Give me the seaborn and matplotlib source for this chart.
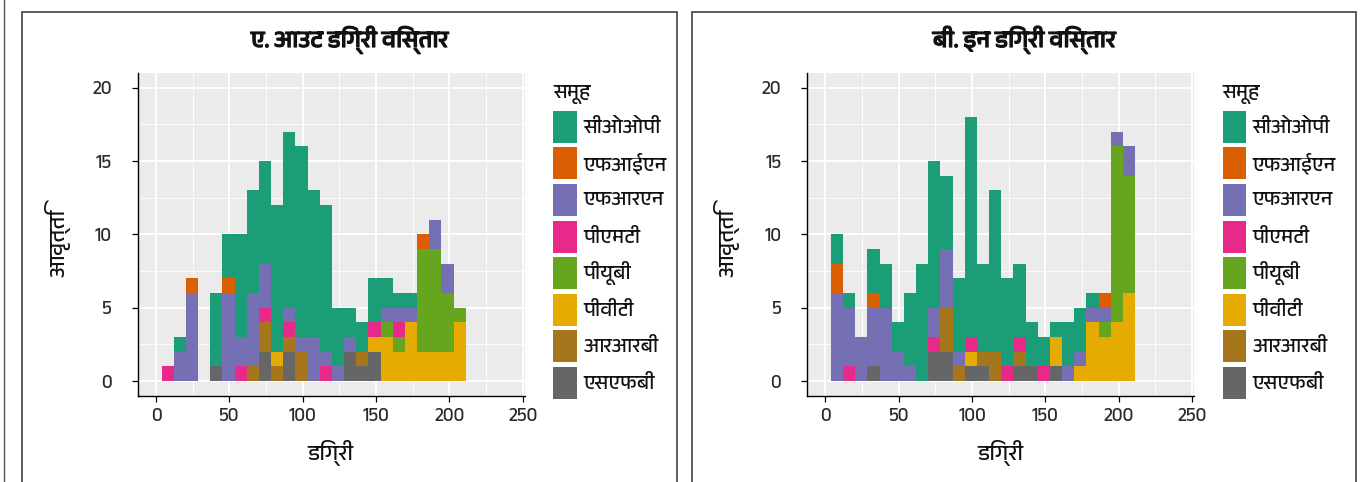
import logging
logging.disable(logging.WARNING)
import numpy as np
import pandas as pd
import matplotlib
matplotlib.use("Agg")
import matplotlib.pyplot as plt
import matplotlib.patheffects as pe
import seaborn as sns
from matplotlib import font_manager as fm
from matplotlib.patches import Rectangle
from matplotlib.lines import Line2D
from matplotlib.ticker import MultipleLocator

# ---------------- data ----------------
groups = ["सीओओपी", "एफआईएन", "एफआरएन", "पीएमटी", "पीयूबी", "पीवीटी", "आरआरबी", "एसएफबी"]
colors = ["#1B9E77", "#D95F02", "#7570B3", "#E7298A", "#66A61E", "#E6AB02", "#A6761D", "#666666"]

bin_start = 3.85
bin_width = 8.29
n_bins = 25

# A. out degree: counts per bin for each group
out_cop = [0, 1, 0, 0, 5, 3, 7, 7, 7, 10, 12, 13, 10, 10, 4, 2, 2, 3, 2, 1, 1, 0, 0, 0, 0]
out_fin = [0, 0, 1, 0, 0, 1, 0, 0, 0, 0, 0, 0, 0, 0, 0, 0, 0, 0, 0, 0, 0, 1, 0, 0, 0]
out_frn = [0, 2, 6, 0, 0, 6, 2, 5, 3, 0, 1, 1, 3, 1, 1, 1, 0, 0, 1, 1, 1, 0, 2, 2, 0]
out_pmt = [1, 0, 0, 0, 0, 0, 1, 0, 1, 0, 1, 0, 0, 1, 0, 0, 0, 1, 0, 1, 0, 0, 0, 0, 0]
out_pub = [0, 0, 0, 0, 0, 0, 0, 0, 0, 0, 0, 0, 0, 0, 0, 0, 0, 0, 1, 1, 0, 7, 7, 4, 1]
out_pvt = [0, 0, 0, 0, 0, 0, 0, 0, 0, 1, 0, 0, 0, 0, 0, 0, 0, 1, 3, 2, 4, 2, 2, 2, 4]
out_rrb = [0, 0, 0, 0, 0, 0, 0, 1, 2, 1, 1, 2, 0, 0, 0, 0, 1, 0, 0, 0, 0, 0, 0, 0, 0]
out_sfb = [0, 0, 0, 0, 1, 0, 0, 0, 2, 0, 2, 0, 0, 0, 0, 2, 1, 2, 0, 0, 0, 0, 0, 0, 0]

# B. in degree: counts per bin for each group
in_cop = [2, 1, 0, 3, 3, 2, 5, 8, 10, 5, 5, 15, 6, 11, 6, 5, 3, 2, 1, 3, 3, 1, 0, 0, 0]
in_fin = [2, 0, 0, 1, 0, 0, 0, 0, 0, 0, 0, 0, 0, 0, 0, 0, 0, 0, 0, 0, 0, 0, 1, 0, 0]
in_frn = [6, 4, 3, 4, 5, 2, 1, 0, 2, 4, 1, 0, 0, 0, 0, 0, 0, 0, 0, 1, 1, 1, 1, 1, 2]
in_pmt = [0, 1, 0, 0, 0, 0, 0, 0, 1, 0, 0, 1, 0, 0, 1, 1, 0, 1, 0, 0, 0, 0, 0, 0, 0]
in_pub = [0, 0, 0, 0, 0, 0, 0, 0, 0, 0, 0, 0, 0, 0, 0, 0, 0, 0, 0, 0, 0, 0, 1, 12, 8]
in_pvt = [0, 0, 0, 0, 0, 0, 0, 0, 0, 0, 0, 1, 0, 0, 0, 0, 0, 0, 2, 0, 1, 4, 3, 4, 6]
in_rrb = [0, 0, 0, 0, 0, 0, 0, 0, 0, 3, 1, 0, 1, 2, 0, 1, 0, 0, 0, 0, 0, 0, 0, 0, 0]
in_sfb = [0, 0, 0, 1, 0, 0, 0, 0, 2, 2, 0, 1, 1, 0, 0, 1, 1, 0, 1, 0, 0, 0, 0, 0, 0]

titles = ["ए. आउट डिग्री विस्तार", "बी. इन डिग्री विस्तार"]
x_label = "डिग्री"
y_label = "आवृत्ति"
legend_title = "समूह"
x_ticks = [0, 50, 100, 150, 200, 250]
y_ticks = [0, 5, 10, 15, 20]

# ---------------- fonts ----------------
def find_devanagari():
    try:
        from fontTools.ttLib import TTFont
    except Exception:
        return []
    found = []
    for f in fm.fontManager.ttflist:
        try:
            kw = {"fontNumber": 0} if f.fname.lower().endswith(".ttc") else {}
            tt = TTFont(f.fname, lazy=True, **kw)
            cmap = tt.getBestCmap()
            if cmap and 0x0915 in cmap and 0x093F in cmap:
                found.append((f.name, f.weight))
        except Exception:
            pass
    return found

deva = find_devanagari()
names = [n for n, w in deva]
pref = [n for n in names if "Devanagari" in n] + names
deva_name = pref[0] if pref else None
fam = ([deva_name] if deva_name else []) + ["DejaVu Sans"]
has_bold = any(n == deva_name and (w == "bold" or (isinstance(w, int) and w >= 600))
               for n, w in deva)

sns.set_theme(style="darkgrid")
plt.rcParams["font.family"] = fam

W, H = 1360, 482
fig = plt.figure(figsize=(W / 100, H / 100), dpi=100)

edges = bin_start + bin_width * np.arange(n_bins + 1)
centers = edges[:-1] + bin_width / 2

panels = [
    [out_cop, out_fin, out_frn, out_pmt, out_pub, out_pvt, out_rrb, out_sfb],
    [in_cop, in_fin, in_frn, in_pmt, in_pub, in_pvt, in_rrb, in_sfb],
]

ax_w = 387.3
ax_h = 322.7
ax_lefts = [137.7, 807.0]
ax_bottom_px = 395.7
box_lefts = [22, 692]
box_rights = [677, 1356]


def fx(px):
    return px / W


def fy(py):
    return 1 - py / H


for k in range(2):
    rows = []
    for g, vals in zip(groups, panels[k]):
        for c, v in zip(centers, vals):
            rows.append({"x": c, "n": v, "group": g})
    df = pd.DataFrame(rows)

    ax = fig.add_axes([fx(ax_lefts[k]), fy(ax_bottom_px), ax_w / W, ax_h / H])
    sns.histplot(data=df, x="x", weights="n", hue="group", hue_order=groups,
                 palette=colors, bins=[float(e) for e in edges], multiple="stack",
                 element="step", fill=True, alpha=1, linewidth=0, legend=False, ax=ax)

    ax.set_facecolor("#EBEBEB")
    ax.set_xlim(-12.5, 251.5)
    ax.set_ylim(-1, 21)
    ax.set_xticks(x_ticks)
    ax.set_yticks(y_ticks)
    ax.xaxis.set_minor_locator(MultipleLocator(25))
    ax.yaxis.set_minor_locator(MultipleLocator(2.5))
    ax.grid(which="major", color="white", linewidth=1.3)
    ax.grid(which="minor", color="white", linewidth=0.6)
    ax.set_axisbelow(True)
    for s in ["top", "right"]:
        ax.spines[s].set_visible(False)
    for s in ["left", "bottom"]:
        ax.spines[s].set_visible(True)
        ax.spines[s].set_color("black")
        ax.spines[s].set_linewidth(1.0)
    ax.tick_params(which="major", length=4.5, width=0.9, color="black",
                   labelsize=13.5, labelcolor="#2a2a2a", direction="out",
                   bottom=True, left=True)
    ax.tick_params(axis="x", which="major", pad=4)
    ax.tick_params(axis="y", which="major", pad=14)
    ax.tick_params(which="minor", length=0)

    ax.set_xlabel(x_label, fontsize=16, color="#111111")
    ax.set_ylabel(y_label, fontsize=16, color="#111111")
    ax.xaxis.label.set_va("center")
    ax.yaxis.label.set_va("center")
    ax.xaxis.set_label_coords(0.499, (ax_bottom_px - 453) / ax_h)
    ax.yaxis.set_label_coords((57 - ax_lefts[0]) / ax_w, (ax_bottom_px - 243) / ax_h)

    # panel title
    cx = (box_lefts[k] + box_rights[k]) / 2
    t = fig.text(fx(cx), fy(40), titles[k], ha="center", va="center",
                 fontsize=17, fontweight="bold", color="#111111")
    if not has_bold:
        t.set_path_effects([pe.withStroke(linewidth=0.9, foreground="#111111")])

    # legend (keys and labels)
    lx = ax_lefts[k] + 415.5
    fig.text(fx(lx), fy(94), legend_title, ha="left", va="center",
             fontsize=14.5, color="#111111")
    for i, (g, c) in enumerate(zip(groups, colors)):
        top = 110.7 + 36.6 * i
        fig.add_artist(Rectangle((fx(lx), fy(top + 32)), 23.3 / W, 32 / H,
                                 transform=fig.transFigure, facecolor=c,
                                 edgecolor="none"))
        fig.text(fx(lx + 30), fy(top + 16), g, ha="left", va="center",
                 fontsize=14.5, color="#111111")

    # panel frame
    fig.add_artist(Rectangle((fx(box_lefts[k]), -0.05),
                             (box_rights[k] - box_lefts[k]) / W, (H - 12) / H + 0.05,
                             transform=fig.transFigure, fill=False,
                             edgecolor="#333333", linewidth=1.1))

fig.add_artist(Line2D([fx(4), fx(4)], [0, 1], transform=fig.transFigure,
                      color="#555555", linewidth=1.0))

fig.savefig("out.png", dpi=100, facecolor="white")
